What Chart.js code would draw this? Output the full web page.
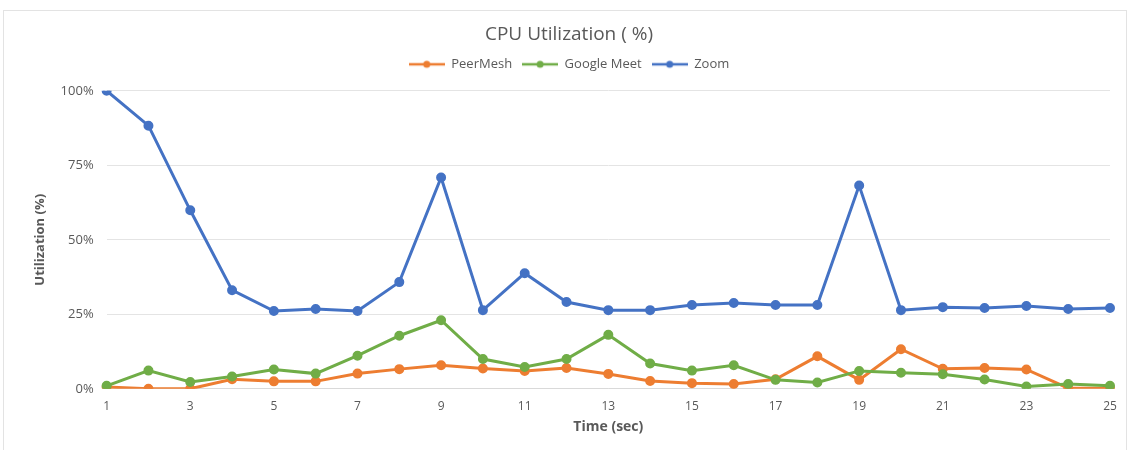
<!DOCTYPE html>
<html>
<head>
<meta charset="utf-8">
<script src="https://cdn.jsdelivr.net/npm/chart.js@4"></script>
<style>
html,body{margin:0;padding:0;background:#fff;}
#frame{position:absolute;left:3px;top:10px;width:1124px;height:450px;border:1px solid #e3e3e3;box-sizing:border-box;}
#wrap{position:absolute;left:0;top:0;width:1131px;height:450px;}
</style>
</head>
<body>
<div id="frame"></div>
<div id="wrap"><canvas id="c"></canvas></div>
<script>
// ── DATA ──
const timeSec = ['1','2','3','4','5','6','7','8','9','10','11','12','13','14','15','16','17','18','19','20','21','22','23','24','25'];
const peerMesh = [0.6,0,0,3.2,2.5,2.5,5.1,6.6,7.9,6.8,6.0,7.0,5.0,2.6,1.9,1.6,3.2,10.9,3.0,13.3,6.7,7.0,6.5,0.2,0.2];
const googleMeet = [1.0,6.1,2.3,4.1,6.5,5.1,11.1,17.8,23.0,10.0,7.3,10.0,18.1,8.5,6.1,7.9,3.0,2.1,6.0,5.4,4.9,3.1,0.8,1.6,1.0];
const zoom = [100,88.3,59.9,33.1,26.1,26.8,26.1,35.8,70.9,26.4,38.8,29.1,26.4,26.4,28.1,28.8,28.1,28.1,68.2,26.4,27.4,27.1,27.8,26.8,27.1];
const yTicks = [0,25,50,75,100];

const COLORS = {peer:'#ED7D31', meet:'#70AD47', zoom:'#4472C4'};
const FONT = '"Open Sans", Lato, sans-serif';
const GREY = '#595959';

// legend marker: short line with a dot, Excel style
function marker(color){
  const cv = document.createElement('canvas');
  cv.width = 36; cv.height = 10;
  const g = cv.getContext('2d');
  g.strokeStyle = color; g.lineWidth = 2.5;
  g.beginPath(); g.moveTo(0,5); g.lineTo(36,5); g.stroke();
  g.fillStyle = color;
  g.beginPath(); g.arc(18,5,3.5,0,Math.PI*2); g.fill();
  return cv;
}

function series(label, data, color, order){
  return {
    label, data, order,
    borderColor: color, backgroundColor: color,
    pointBackgroundColor: color, pointBorderColor: color,
    borderWidth: 3, pointRadius: 3.5, pointHoverRadius: 4,
    tension: 0, fill: false
  };
}

// extra room under the legend row
const legendGap = {
  id: 'legendGap',
  beforeInit(chart){
    const fit = chart.legend.fit;
    chart.legend.fit = function(){ fit.call(this); this.height += 10; };
  }
};

Chart.defaults.font.family = FONT;
Chart.defaults.color = GREY;

new Chart(document.getElementById('c'), {
  type: 'line',
  data: {
    labels: timeSec,
    datasets: [
      series('PeerMesh', peerMesh, COLORS.peer, 3),
      series('Google Meet', googleMeet, COLORS.meet, 2),
      series('Zoom', zoom, COLORS.zoom, 1)
    ]
  },
  plugins: [legendGap],
  options: {
    responsive: true, maintainAspectRatio: false, animation: false,
    layout: {padding: {left: 28, right: 21, top: 19, bottom: 11}},
    plugins: {
      title: {
        display: true, text: 'CPU Utilization ( %)',
        color: GREY, font: {size: 19, weight: 'normal'},
        padding: {top: 4, bottom: 2}
      },
      legend: {
        labels: {
          usePointStyle: true, pointStyleWidth: 36, color: GREY, font: {size: 13},
          padding: 10,
          generateLabels(chart){
            return chart.data.datasets.map((ds, i) => ({
              text: ds.label, pointStyle: marker(ds.borderColor),
              fillStyle: ds.borderColor, strokeStyle: ds.borderColor,
              fontColor: GREY, datasetIndex: i, hidden: false, lineWidth: 0
            }));
          }
        }
      },
      tooltip: {enabled: false}
    },
    scales: {
      x: {
        offset: false,
        grid: {display: false},
        border: {color: '#d9d9d9'},
        ticks: {
          autoSkip: false, maxRotation: 0, color: GREY, font: {size: 12},
          callback(v, i){ return i % 2 === 0 ? timeSec[i] : ''; }
        },
        title: {display: true, text: 'Time (sec)', color: GREY, font: {size: 14, weight: 'bold'}, padding: {top: 1}}
      },
      y: {
        min: 0, max: 100,
        afterBuildTicks(s){ s.ticks = yTicks.map(v => ({value: v})); },
        grid: {color: '#e4e4e4', drawTicks: false},
        border: {display: false},
        ticks: {color: GREY, font: {size: 13}, padding: 13, callback: v => v + '%'},
        title: {display: true, text: 'Utilization (%)', color: GREY, font: {size: 13, weight: 'bold'}, padding: {bottom: 0}}
      }
    }
  }
});
</script>
</body>
</html>
